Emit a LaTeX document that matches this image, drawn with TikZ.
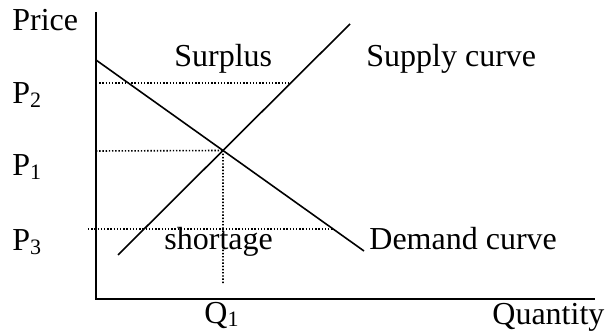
\documentclass[tikz,border=0pt]{standalone}
\usepackage{fontspec}
\setmainfont{Liberation Serif}
\usetikzlibrary{intersections}
\newcommand{\mysub}[1]{\raisebox{-1.6pt}{\fontsize{11}{12}\selectfont #1}}
\begin{document}
\begin{tikzpicture}[x=0.5pt,y=-0.5pt,
  lbl/.style={anchor=base west,inner sep=0pt,font=\fontsize{16}{18}\selectfont},
  axisline/.style={line width=1pt},
  curveline/.style={line width=0.8pt},
  dotline/.style={line width=0.8pt,dash pattern=on 0.7pt off 0.9pt}]
\useasboundingbox (0,0) rectangle (605,331);
% axes
\coordinate (ytop) at (96,12);
\coordinate (orig) at (96,299);
\coordinate (xend) at (595,299);
\draw[axisline] (ytop) -- (orig) -- (xend);
% curves
\coordinate (d1) at (96,60);
\coordinate (d2) at (364,251);
\coordinate (s1) at (118,255);
\coordinate (s2) at (350,24);
\draw[curveline,name path=demand] (d1) -- (d2);
\draw[curveline,name path=supply] (s1) -- (s2);
\path[name intersections={of=demand and supply,by=E}];
% price levels
\path[name path=p2] (90,83) -- (400,83);
\path[name intersections={of=p2 and supply,by=p2e}];
\coordinate (p2s) at (96,83);
\draw[dotline] (p2s) -- (p2e);
\coordinate (p1s) at (96,151);
\draw[dotline] (p1s) -- (E);
\coordinate (q1e) at (223,284);
\draw[dotline] (E) -- (q1e);
\path[name path=p3] (88,229) -- (400,229);
\path[name intersections={of=p3 and demand,by=p3e}];
\coordinate (p3s) at (88,229);
\draw[dotline] (p3s) -- (p3e);
% labels
\node[lbl] (price) at (12,31) {Price};
\node[lbl] (surplus) at (174,67) {Surplus};
\node[lbl] (supply) at (366,67) {Supply curve};
\node[lbl] (P2) at (12,104) {P\mysub{2}};
\node[lbl] (P1) at (12,176) {P\mysub{1}};
\node[lbl] (P3) at (12,251) {P\mysub{3}};
\node[lbl] (short) at (164,250) {shortage};
\node[lbl] (demand) at (369,250) {Demand curve};
\node[lbl] (Q1) at (204,323) {Q\mysub{1}};
\node[lbl] (qty) at (492,324) {Quantity};
\end{tikzpicture}
\end{document}
